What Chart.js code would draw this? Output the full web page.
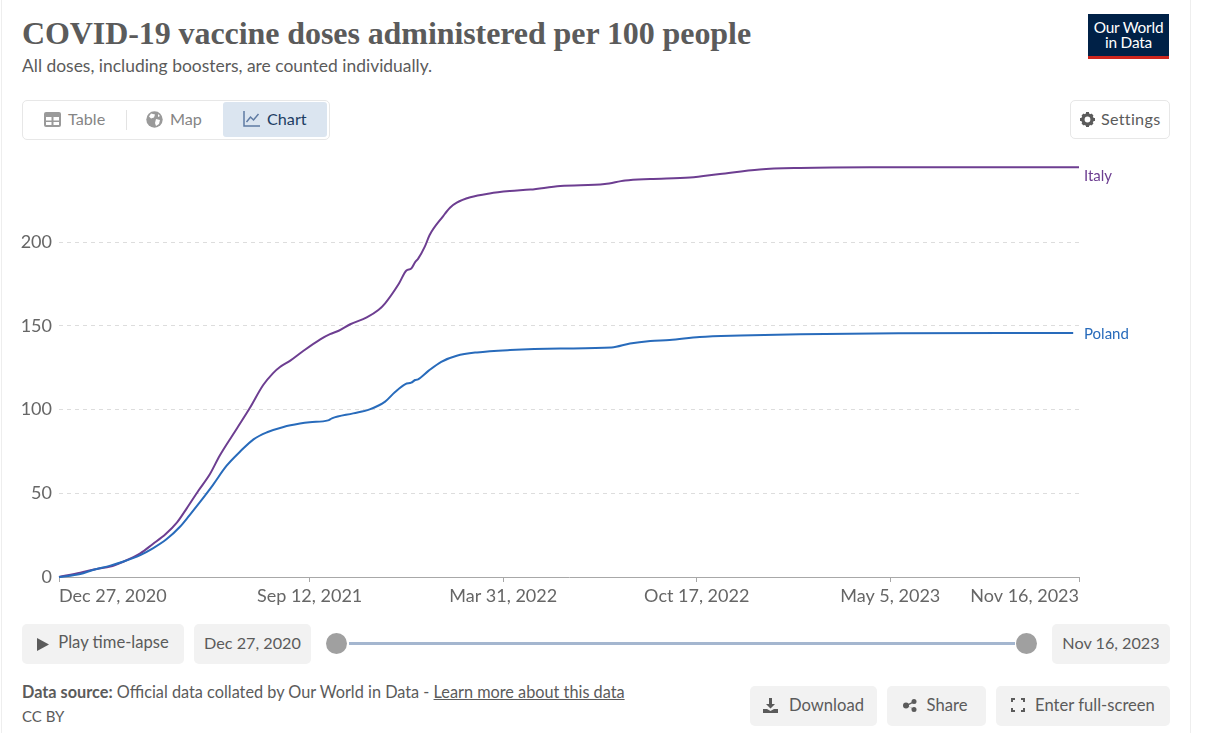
<!DOCTYPE html>
<html><head><meta charset="utf-8">
<script src="https://cdn.jsdelivr.net/npm/chart.js@4"></script>
<style>
html,body{margin:0;padding:0;background:#fff;overflow:hidden}
body{width:1214px;height:733px;position:relative;font-family:Lato,sans-serif;color:#5b5b5b}
.a{position:absolute;white-space:nowrap}
.btn{position:absolute;background:#f2f2f2;border-radius:5px;font-size:16.6px;color:#5b5b5b;display:flex;align-items:center;justify-content:center;gap:9px;box-sizing:border-box;white-space:nowrap;padding-bottom:4px}
.btn svg{margin-top:4px}
.low{padding-bottom:2px}
.low svg{margin-top:0}
svg{display:block}
</style></head><body>
<div class="a" style="left:1px;top:0;width:1px;height:733px;background:#eee"></div>
<div class="a" style="left:1190px;top:0;width:1px;height:733px;background:#eee"></div>
<div class="a" id="title" style="left:22px;top:13px;font:bold 32px 'Liberation Serif',serif;color:#5b5b5b;line-height:40px;letter-spacing:-.08px">COVID-19 vaccine doses administered per 100 people</div>
<div class="a" style="left:22px;top:55px;font-size:17.45px;line-height:21px;color:#5b5b5b">All doses, including boosters, are counted individually.</div>

<div class="a" style="left:1088px;top:14px;width:81px;height:45px;background:#002147;border-bottom:3px solid #ce261e;box-sizing:border-box;color:#fff;font-size:15.4px;line-height:15px;text-align:center;padding-top:6px;letter-spacing:-.2px">Our World<br>in Data</div>

<div class="a" style="left:22px;top:100px;width:308px;height:40px;border:1px solid #e7e7e7;border-radius:5px;box-sizing:border-box"></div>
<div class="a" style="left:223px;top:102px;width:104px;height:35px;background:#dbe5f0;border-radius:3px"></div>
<div class="a" style="left:126px;top:110px;width:1px;height:20px;background:#e3e3e3"></div>
<svg class="a" style="left:44px;top:112px" width="17" height="15" viewBox="0 0 17 15"><rect width="17" height="15" rx="2" fill="#9a9a9a"/><path d="M2 5h5.500v3.500H2zM9.500 5H15v3.500H9.500zM2 10h5.500v3H2zM9.500 10H15v3H9.500z" fill="#fff"/></svg>
<div class="a" style="left:68px;top:109px;font-size:16.2px;line-height:19px;color:#858585">Table</div>
<svg class="a" style="left:146px;top:111px" width="17" height="17" viewBox="0 0 17 17"><circle cx="8.500" cy="8.500" r="8.200" fill="#9a9a9a"/><path d="M5 2.500l4 1-1 3-3 1-2-2zM10 8l4 1-1 4-3 2-1-3zM12 3l2 2-2 1z" fill="#fff"/></svg>
<div class="a" style="left:170px;top:109px;font-size:16.2px;line-height:19px;color:#858585">Map</div>
<svg class="a" style="left:243px;top:111px" width="17" height="16" viewBox="0 0 17 16" fill="none" stroke="#5f7ba3" stroke-width="1.5"><path d="M1 0v15h16"/><path d="M3.500 11l4-5 3 3 5-6"/></svg>
<div class="a" style="left:267px;top:109px;font-size:16.2px;line-height:19px;color:#1d3d63">Chart</div>

<div class="a" style="left:1070px;top:100px;width:100px;height:39px;border:1px solid #e7e7e7;border-radius:5px;box-sizing:border-box"></div>
<svg class="a" style="left:1080px;top:112px" width="15" height="15" viewBox="0 0 15 15"><circle cx="7.500" cy="7.500" r="4.600" fill="none" stroke="#5b5b5b" stroke-width="3.400"/><path d="M6 0h3v3H6zM6 12h3v3H6zM0 6h3v3H0zM12 6h3v3h-3zM1.500 3.500l2-2 2 2-2 2zM9.500 3.500l2-2 2 2-2 2zM1.500 11.500l2-2 2 2-2 2zM9.500 11.500l2-2 2 2-2 2z" fill="#5b5b5b"/></svg>
<div class="a" style="left:1101px;top:109px;font-size:16.2px;line-height:19px;letter-spacing:.28px">Settings</div>

<div class="a" style="left:0;top:140px;width:1214px;height:480px"><canvas id="c" width="1214" height="480" style="display:block;width:1214px;height:480px"></canvas></div>
<div class="a" style="left:1084px;top:166px;font-size:15px;line-height:18px;color:#6d3e91">Italy</div>
<div class="a" style="left:1084px;top:324px;font-size:15px;line-height:18px;color:#286bbb">Poland</div>

<div class="btn" style="left:22px;top:624px;width:162px;height:40px"><svg width="12" height="13" viewBox="0 0 12 13"><path d="M0 0l12 6.500L0 13z" fill="#5b5b5b"/></svg>Play time-lapse</div>
<div class="btn" style="left:194px;top:624px;width:117px;height:40px;font-size:16.2px">Dec 27, 2020</div>
<div class="a" style="left:349px;top:642px;width:666px;height:3px;background:#a4b6cf"></div>
<div class="a" style="left:326px;top:633px;width:21px;height:21px;border-radius:50%;background:#a0a0a0"></div>
<div class="a" style="left:1016px;top:633px;width:21px;height:21px;border-radius:50%;background:#a0a0a0"></div>
<div class="btn" style="left:1052px;top:624px;width:118px;height:40px;font-size:16.2px">Nov 16, 2023</div>

<div class="a" style="left:22px;top:682px;font-size:16.27px;line-height:20px"><b>Data source:</b> Official data collated by Our World in Data - <span style="text-decoration:underline">Learn more about this data</span></div>
<div class="a" style="left:22px;top:707px;font-size:15px;line-height:19px">CC BY</div>

<div class="btn low" style="left:750px;top:686px;width:127px;height:40px;gap:11px"><svg width="15" height="15" viewBox="0 0 15 15"><path d="M6 0h3v6h3L7.500 10.500 3 6h3zM0 11h4l3.500 2L11 11h4v4H0z" fill="#5b5b5b"/></svg>Download</div>
<div class="btn low" style="left:887px;top:686px;width:99px;height:40px;gap:10px;padding-right:3px"><svg width="14" height="13" viewBox="0 0 14 13" fill="#5b5b5b"><circle cx="3" cy="6.500" r="3"/><circle cx="11" cy="2.500" r="2.500"/><circle cx="11" cy="10.500" r="2.500"/><path d="M3 6L11 2v1.500L3 7.500zM3 5.500l8 5.500v-1.500L3 7z"/></svg>Share</div>
<div class="btn low" style="left:996px;top:686px;width:174px;height:40px;gap:10px"><svg width="14" height="14" viewBox="0 0 14 14" fill="none" stroke="#5b5b5b" stroke-width="2"><path d="M1 4V1h3M10 1h3v3M13 10v3h-3M4 13H1v-3"/></svg>Enter full-screen</div>

<script>
// Days since Dec 27, 2020
const tickDays = [0, 259, 459, 659, 859, 1054];
const tickLabels = ["Dec 27, 2020", "Sep 12, 2021", "Mar 31, 2022", "Oct 17, 2022", "May 5, 2023", "Nov 16, 2023"];
const yTicks = [0, 50, 100, 150, 200];

const italyDays = [0,22,39,53,65,84,97,110,122,132,144,156,166,184,197,211,221,228,239,252,270,280,289,301,318,330,337,351,359,364,368,371,378,383,397,404,411,425,445,466,487,518,564,585,611,652,683,724,766,838,1054];
const italyValues = [0,2.6,4.8,6.2,8.8,14.1,19.7,25.5,32.6,41,51.5,61.5,72.4,88.8,100.7,114.6,121.6,125.2,129.2,134.8,141.9,145,147,150.9,155,159.4,163.4,174.9,183,184.2,188,189.9,197.2,204.2,215.5,220.5,223.5,226.7,229,230.4,231.3,233.4,234.6,236.7,237.6,238.5,240.6,243.3,244.2,244.6,244.6];

const polandDays = [0,22,35,53,66,84,97,111,125,135,146,159,173,187,201,215,232,249,259,278,282,304,321,337,347,358,364,368,371,382,395,411,432,466,518,571,590,611,631,662,704,766,869,1048];
const polandValues = [0,1.8,4.2,6.8,9.1,13.1,17.1,22.5,30,37,45,54.9,66.3,74.8,82.2,86.4,89.6,91.6,92.4,93.5,94.7,97.7,100.1,104.7,110.3,115.2,116,117.6,118,123.2,128.5,132.1,134.1,135.5,136.4,137,139.4,140.9,141.5,143.3,144.2,145,145.5,145.7];

const toPoints = (xs, ys) => xs.map((x, i) => ({x, y: ys[i]}));

new Chart(document.getElementById('c'), {
  type: 'line',
  data: { datasets: [
    { label: 'Poland', data: toPoints(polandDays, polandValues), borderColor: '#286bbb', borderWidth: 2, pointRadius: 0, cubicInterpolationMode: 'monotone', clip: false },
    { label: 'Italy', data: toPoints(italyDays, italyValues), borderColor: '#6d3e91', borderWidth: 2, pointRadius: 0, cubicInterpolationMode: 'monotone', clip: false }
  ]},
  options: {
    responsive: false, animation: false, events: [],
    layout: { padding: { top: 27.3, right: 135, bottom: 0, left: 0 } },
    plugins: { legend: { display: false }, tooltip: { enabled: false } },
    scales: {
      x: {
        type: 'linear', min: 0, max: 1054,
        afterBuildTicks: s => { s.ticks = tickDays.map(v => ({value: v})); },
        afterFit: s => { s.height = 43; },
        border: { display: true, color: '#a8a8a8', width: 1 },
        grid: { drawOnChartArea: false, drawTicks: true, tickLength: 5, color: '#a8a8a8' },
        ticks: {
          align: 'inner', autoSkip: false, maxRotation: 0, minRotation: 0, padding: 3,
          color: '#666', font: { family: 'Lato', size: 18 },
          callback: v => tickLabels[tickDays.indexOf(v)]
        }
      },
      y: {
        type: 'linear', min: 0, max: 244.6,
        afterBuildTicks: s => { s.ticks = yTicks.map(v => ({value: v})); },
        afterFit: s => { s.width = 59; },
        border: { display: false, dash: [4, 4] },
        grid: { color: c => c.tick.value === 0 ? 'rgba(0,0,0,0)' : '#dddddd', drawTicks: false, lineWidth: 1 },
        ticks: { padding: 7, color: '#666', font: { family: 'Lato', size: 18 }, callback: v => String(v) }
      }
    }
  }
});
</script>
</body></html>
